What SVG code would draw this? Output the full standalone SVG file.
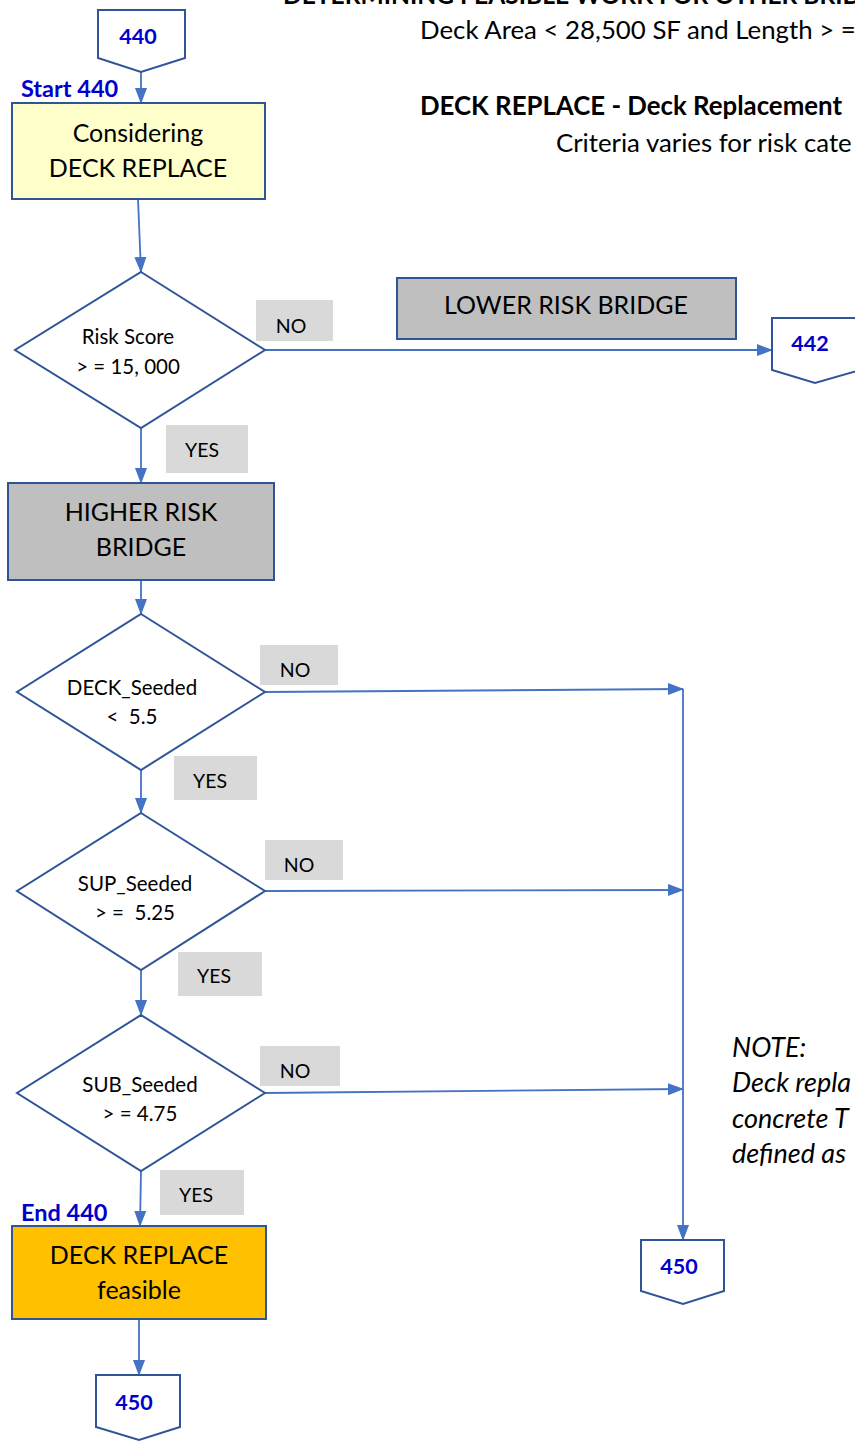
<svg xmlns="http://www.w3.org/2000/svg" width="855" height="1442" viewBox="0 0 855 1442">
<style>
text{font-family:Lato,"Liberation Sans",sans-serif;fill:#000;white-space:pre}
.box{font-size:25px;text-anchor:middle}
.dia{font-size:20.5px;text-anchor:middle}
.lbl{font-size:19.5px;text-anchor:middle}
.blue{font-weight:bold;fill:#0000CC;font-size:23.5px}
.cn{font-weight:bold;fill:#0000CC;font-size:21.5px;text-anchor:middle}
.hd{font-size:25.8px}
.note{font-size:27px;font-style:italic}
.d{fill:#fff;stroke:#2F5597;stroke-width:2}
.r{stroke:#2F5597;stroke-width:2}
.g{fill:#D9D9D9}
.c{fill:none;stroke:#4472C4;stroke-width:1.8}
</style>
<defs>
<marker id="ah2" markerWidth="16" markerHeight="16" refX="15" refY="8" orient="auto" markerUnits="userSpaceOnUse" viewBox="0 0 16 16">
<path d="M0,2 L16,8 L0,14 z" fill="#4472C4"/>
</marker>
</defs>

<g id="header">
<text x="283" y="4" style="font-size:24.6px;font-weight:bold">DETERMINING FEASIBLE WORK FOR OTHER BRID</text>
<text x="420" y="39" class="hd">Deck Area &lt; 28,500 SF and Length &gt; =</text>
<text x="420" y="115" class="hd" font-weight="bold">DECK REPLACE - Deck Replacement</text>
<text x="556" y="152" class="hd">Criteria varies for risk cate</text>
</g>

<g id="connectors">
<path class="c" d="M141,72 L141,103" marker-end="url(#ah2)"/>
<path class="c" d="M138,199 L141,272" marker-end="url(#ah2)"/>
<path class="c" d="M265,350 L772,350" marker-end="url(#ah2)"/>
<path class="c" d="M141,428 L141,483" marker-end="url(#ah2)"/>
<path class="c" d="M141,580 L141,614" marker-end="url(#ah2)"/>
<path class="c" d="M265,692 L683,689" marker-end="url(#ah2)"/>
<path class="c" d="M141,770 L141,813" marker-end="url(#ah2)"/>
<path class="c" d="M265,891 L683,890" marker-end="url(#ah2)"/>
<path class="c" d="M141,970 L141,1015" marker-end="url(#ah2)"/>
<path class="c" d="M265,1093 L683,1089" marker-end="url(#ah2)"/>
<path class="c" d="M683,689 L683,1240" marker-end="url(#ah2)"/>
<path class="c" d="M141,1171 L140,1226" marker-end="url(#ah2)"/>
<path class="c" d="M139,1319 L139,1375" marker-end="url(#ah2)"/>
</g>

<g id="c440">
<path class="d" d="M98,10 L185,10 L185,58 L141,72 L98,58 Z"/>
<text x="138" y="44" class="cn">440</text>
</g>
<g id="start440"><text x="21" y="97" class="blue">Start 440</text></g>

<g id="consider">
<rect x="12" y="103" width="253" height="96" fill="#FFFFCC" class="r"/>
<text x="138" y="142" class="box">Considering</text>
<text x="138" y="177" class="box">DECK REPLACE</text>
</g>

<g id="risk">
<path class="d" d="M141,272 L265,350 L141,428 L15,350 Z"/>
<text x="128" y="344" class="dia">Risk Score</text>
<text x="128" y="374" class="dia">&gt; = 15, 000</text>
</g>
<g id="no1"><rect x="256" y="300" width="77" height="41" class="g"/><text x="291" y="333" class="lbl">NO</text></g>

<g id="lower">
<rect x="397" y="278" width="339" height="61" fill="#BFBFBF" class="r"/>
<text x="566" y="314" class="box">LOWER RISK BRIDGE</text>
</g>

<g id="c442">
<path class="d" d="M772,318 L860,318 L860,370 L815,383 L772,370 Z"/>
<text x="810" y="351" class="cn">442</text>
</g>

<g id="yes1"><rect x="166" y="425" width="82" height="48" class="g"/><text x="202" y="457" class="lbl">YES</text></g>

<g id="higher">
<rect x="8" y="483" width="266" height="97" fill="#BFBFBF" class="r"/>
<text x="141" y="521" class="box">HIGHER RISK</text>
<text x="141" y="556" class="box">BRIDGE</text>
</g>

<g id="deck">
<path class="d" d="M141,614 L265,692 L141,770 L17,692 Z"/>
<text x="132" y="695" class="dia">DECK_Seeded</text>
<text x="132" y="724" class="dia">&lt;  5.5</text>
</g>
<g id="no2"><rect x="260" y="645" width="78" height="40" class="g"/><text x="295" y="677" class="lbl">NO</text></g>
<g id="yes2"><rect x="174" y="756" width="83" height="44" class="g"/><text x="210" y="788" class="lbl">YES</text></g>

<g id="sup">
<path class="d" d="M141,813 L265,891 L141,970 L17,891 Z"/>
<text x="135" y="891" class="dia">SUP_Seeded</text>
<text x="135" y="920" class="dia">&gt; =  5.25</text>
</g>
<g id="no3"><rect x="265" y="840" width="78" height="40" class="g"/><text x="299" y="872" class="lbl">NO</text></g>
<g id="yes3"><rect x="178" y="952" width="84" height="44" class="g"/><text x="214" y="983" class="lbl">YES</text></g>

<g id="sub">
<path class="d" d="M141,1015 L265,1093 L141,1171 L17,1093 Z"/>
<text x="140" y="1092" class="dia">SUB_Seeded</text>
<text x="140" y="1121" class="dia">&gt; = 4.75</text>
</g>
<g id="no4"><rect x="260" y="1046" width="80" height="40" class="g"/><text x="295" y="1078" class="lbl">NO</text></g>
<g id="yes4"><rect x="160" y="1170" width="84" height="45" class="g"/><text x="196" y="1202" class="lbl">YES</text></g>

<g id="end440"><text x="21" y="1221" class="blue">End 440</text></g>

<g id="feasible">
<rect x="12" y="1226" width="254" height="93" fill="#FFC000" class="r"/>
<text x="139" y="1264" class="box">DECK REPLACE</text>
<text x="139" y="1299" class="box">feasible</text>
</g>

<g id="c450a">
<path class="d" d="M96,1375 L180,1375 L180,1427 L139,1440 L96,1427 Z"/>
<text x="134" y="1410" class="cn">450</text>
</g>

<g id="c450b">
<path class="d" d="M641,1240 L724,1240 L724,1291 L683,1304 L641,1291 Z"/>
<text x="679" y="1274" class="cn">450</text>
</g>

<g id="note">
<text x="732" y="1057" class="note">NOTE:</text>
<text x="732" y="1092" class="note">Deck repla</text>
<text x="732" y="1128" class="note">concrete T</text>
<text x="732" y="1163" class="note">defined as</text>
</g>
</svg>
